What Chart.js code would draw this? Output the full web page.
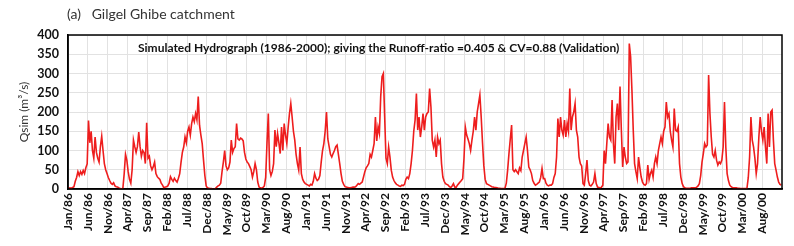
<!DOCTYPE html>
<html>
<head>
<meta charset="utf-8">
<script src="https://cdn.jsdelivr.net/npm/chart.js@4.4.1/dist/chart.umd.min.js"></script>
<style>
  html, body { margin: 0; padding: 0; background: #fff; }
  #wrap { width: 794px; height: 246px; }
</style>
</head>
<body>
<div id="wrap"><canvas id="hydroChart" width="794" height="246"></canvas></div>
<script>
// Simulated discharge (m3/s), roughly one value per dekad (36 per year)
const q1986 = [2, 3, 2, 4, 6, 20, 30, 45, 35, 45, 38, 48, 40, 55, 65, 178, 120, 150, 100, 80, 135, 95, 80, 70, 110, 137, 100, 66, 50, 40, 30, 22, 15, 12, 16, 8];
const q1987 = [6, 5, 3, 1, 0, 2, 40, 90, 75, 45, 25, 15, 50, 127, 110, 95, 110, 148, 110, 85, 100, 95, 66, 172, 80, 85, 60, 50, 58, 70, 40, 32, 28, 25, 15, 10];
const q1988 = [3, 5, 6, 8, 15, 32, 25, 20, 28, 22, 18, 28, 40, 70, 95, 109, 135, 120, 150, 161, 140, 170, 187, 175, 196, 180, 240, 165, 140, 118, 75, 35, 8, 3, 2, 1];
const q1989 = [1, 0, 0, 1, 5, 8, 10, 15, 45, 70, 100, 60, 50, 55, 70, 127, 95, 105, 110, 170, 130, 127, 132, 130, 125, 95, 78, 70, 66, 58, 50, 31, 45, 66, 50, 18];
const q1990 = [5, 3, 2, 4, 8, 30, 120, 196, 50, 35, 45, 66, 153, 110, 144, 120, 92, 161, 100, 170, 140, 118, 160, 196, 222, 187, 150, 127, 90, 66, 49, 109, 40, 25, 18, 14];
const q1991 = [12, 10, 8, 12, 10, 20, 40, 28, 22, 25, 35, 70, 100, 118, 150, 200, 130, 110, 90, 83, 92, 100, 110, 114, 90, 66, 40, 20, 12, 6, 5, 4, 3, 3, 4, 5];
const q1992 = [5, 6, 10, 14, 12, 15, 18, 31, 45, 55, 60, 66, 90, 83, 100, 118, 187, 125, 161, 144, 240, 292, 300, 187, 80, 66, 109, 83, 49, 31, 22, 16, 12, 10, 8, 7];
const q1993 = [10, 9, 12, 25, 31, 27, 40, 66, 100, 150, 179, 248, 153, 187, 135, 161, 196, 153, 187, 196, 200, 261, 213, 127, 109, 127, 83, 135, 118, 127, 66, 31, 20, 14, 12, 10];
const q1994 = [6, 4, 8, 14, 5, 4, 10, 14, 18, 22, 27, 80, 161, 140, 130, 118, 100, 127, 150, 187, 153, 200, 222, 244, 187, 120, 60, 25, 14, 12, 10, 8, 6, 5, 4, 4];
const q1995 = [3, 2, 2, 1, 1, 1, 2, 15, 49, 92, 130, 166, 50, 45, 50, 45, 40, 55, 48, 83, 100, 118, 135, 100, 57, 50, 40, 22, 15, 10, 12, 15, 18, 30, 53, 27];
const q1996 = [27, 15, 10, 8, 10, 10, 14, 30, 40, 83, 183, 135, 187, 153, 140, 179, 135, 170, 150, 261, 153, 187, 200, 222, 153, 135, 83, 66, 60, 14, 10, 40, 75, 22, 10, 8];
const q1997 = [12, 18, 40, 14, 5, 4, 3, 5, 10, 100, 66, 118, 170, 135, 127, 231, 118, 66, 187, 222, 153, 266, 153, 57, 109, 83, 66, 70, 378, 344, 257, 153, 66, 45, 27, 83];
const q1998 = [55, 31, 18, 12, 10, 14, 62, 25, 40, 49, 31, 66, 83, 66, 100, 118, 135, 118, 150, 161, 226, 187, 196, 150, 127, 109, 209, 153, 150, 161, 66, 31, 14, 6, 3, 2];
const q1999 = [2, 2, 2, 3, 3, 3, 3, 5, 8, 14, 35, 70, 92, 118, 109, 114, 296, 196, 135, 90, 83, 100, 75, 62, 70, 66, 75, 109, 226, 109, 40, 22, 10, 6, 4, 3];
const q2000 = [3, 3, 2, 2, 1, 1, 1, 1, 1, 2, 30, 83, 187, 127, 109, 80, 40, 66, 135, 187, 150, 127, 161, 109, 66, 196, 109, 200, 205, 127, 66, 49, 31, 18, 12, 10];

const years = [q1986, q1987, q1988, q1989, q1990, q1991, q1992, q1993, q1994, q1995, q1996, q1997, q1998, q1999, q2000];

// x axis labels, one every 5 months starting Jan 1986
const tickLabels = [
  "Jan/86", "Jun/86", "Nov/86", "Apr/87", "Sep/87", "Feb/88", "Jul/88", "Dec/88",
  "May/89", "Oct/89", "Mar/90", "Aug/90", "Jan/91", "Jun/91", "Nov/91", "Apr/92",
  "Sep/92", "Feb/93", "Jul/93", "Dec/93", "May/94", "Oct/94", "Mar/95", "Aug/95",
  "Jan/96", "Jun/96", "Nov/96", "Apr/97", "Sep/97", "Feb/98", "Jul/98", "Dec/98",
  "May/99", "Oct/99", "Mar/00", "Aug/00"
];

const noteText = "Simulated Hydrograph (1986-2000); giving the Runoff-ratio =0.405 & CV=0.88 (Validation)";

// x = months since Jan 1986
const points = [];
years.forEach(function (vals, yi) {
  vals.forEach(function (v, d) {
    points.push({ x: yi * 12 + (d + 0.5) / 3, y: v });
  });
});

// frame + titles
const textPlugin = {
  id: "hydroText",
  afterDraw(chart) {
    const ctx = chart.ctx;
    const a = chart.chartArea;
    ctx.save();
    ctx.strokeStyle = "#000";
    ctx.lineWidth = 1.5;
    ctx.strokeRect(a.left, a.top, a.right - a.left, a.bottom - a.top);

    ctx.textBaseline = "middle";
    ctx.textAlign = "left";
    ctx.fillStyle = "#333";
    ctx.font = "14px Lato";
    ctx.fillText("(a)   Gilgel Ghibe catchment", a.left - 1, 14);

    ctx.fillStyle = "#111";
    ctx.font = "bold 12px Lato";
    ctx.fillText(noteText, a.left + 70, a.top + 13);
    ctx.restore();
  }
};

const ctx = document.getElementById("hydroChart").getContext("2d");
new Chart(ctx, {
  type: "line",
  data: {
    datasets: [
      {
        data: points,
        borderColor: "#ee1d1d",
        borderWidth: 1.6,
        pointRadius: 0,
        tension: 0,
        fill: false,
      },
    ],
  },
  options: {
    responsive: false,
    animation: false,
    layout: {
      padding: { left: 17, top: 35, right: 12, bottom: 0 },
    },
    plugins: {
      legend: { display: false },
      tooltip: { enabled: false },
      title: { display: false },
    },
    scales: {
      x: {
        type: "linear",
        min: 0,
        max: 180,
        afterBuildTicks: function (axis) {
          axis.ticks = tickLabels.map(function (_, i) {
            return { value: i * 5 };
          });
        },
        afterFit: function (scale) {
          scale.height = 57;
        },
        ticks: {
          autoSkip: false,
          minRotation: 90,
          maxRotation: 90,
          padding: 4,
          color: "#111",
          font: { family: "Lato", size: 12, weight: "bold" },
          callback: function (value) {
            return tickLabels[Math.round(value / 5)];
          },
        },
        grid: {
          color: "#e2e2e2",
          lineWidth: 1,
          drawTicks: false,
        },
        border: { display: true, color: "#000", width: 1.5 },
      },
      y: {
        min: 0,
        max: 400,
        afterFit: function (scale) {
          scale.width = 51;
        },
        ticks: {
          stepSize: 50,
          padding: 9,
          color: "#111",
          font: { family: "Lato", size: 12.5, weight: "bold" },
        },
        grid: {
          color: "#e2e2e2",
          lineWidth: 1,
          drawTicks: false,
        },
        border: { display: true, color: "#000", width: 1.5 },
        title: {
          display: true,
          text: "Qsim (m³/s)",
          color: "#333",
          font: { family: "Lato", size: 12 },
          padding: { top: 0, bottom: 0 },
        },
      },
    },
  },
  plugins: [textPlugin],
});
</script>
</body>
</html>
